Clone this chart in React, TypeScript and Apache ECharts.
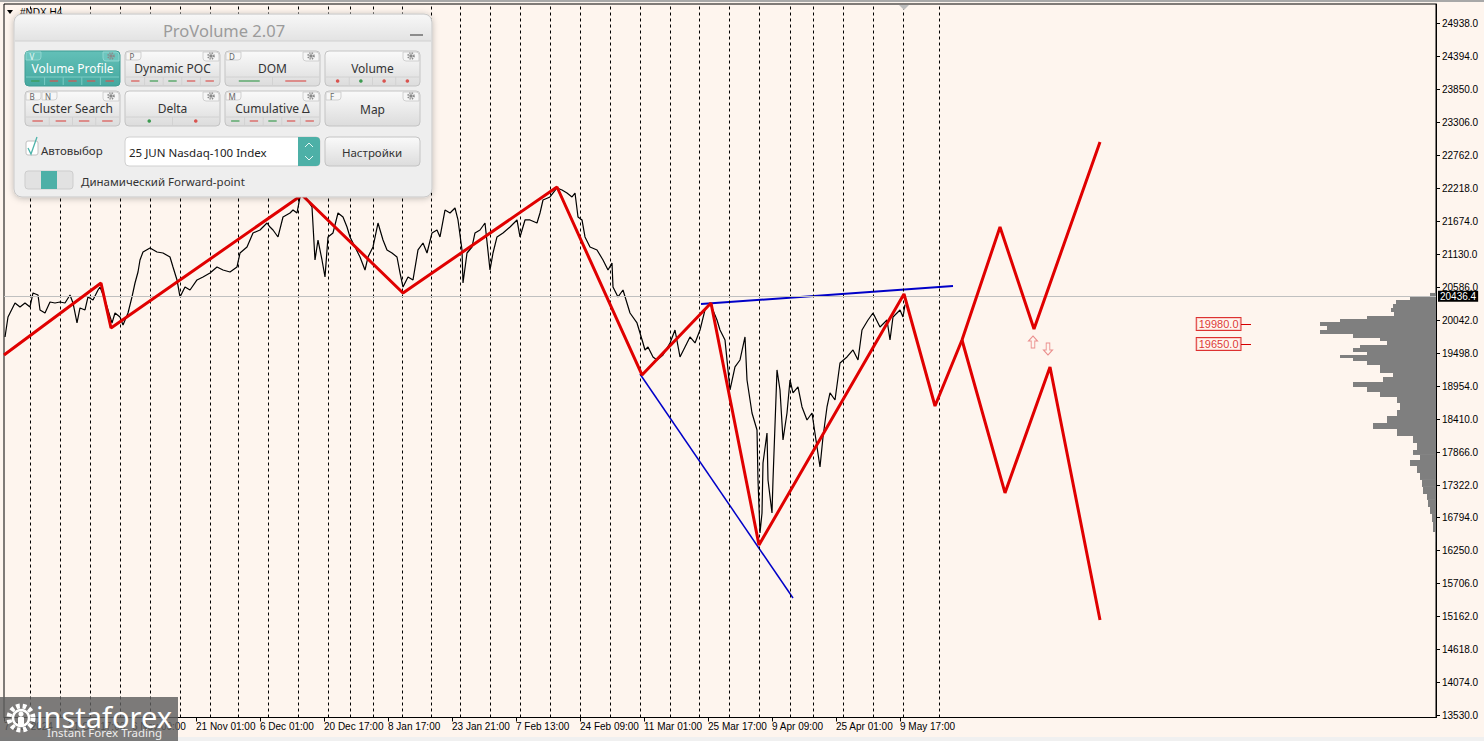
import React, { useEffect, useRef } from "react";
import * as echarts from "echarts";

// ---------- DATA ----------
const priceTicks = [13530, 14074, 14618, 15162, 15706, 16250, 16794, 17322, 17866, 18410, 18954, 19498, 20042, 20586, 21130, 21674, 22218, 22762, 23306, 23850, 24394, 24938];
const dateTickBars = [0, 64, 128, 192, 256, 320, 384, 448, 512, 576, 640, 704, 768, 832, 896];
const dateLabels = ["7 Oct 2024", "21 Oct 17:00", "6 Nov 09:00", "21 Nov 01:00", "6 Dec 01:00", "20 Dec 17:00", "8 Jan 17:00", "23 Jan 21:00", "7 Feb 13:00", "24 Feb 09:00", "11 Mar 01:00", "25 Mar 17:00", "9 Apr 09:00", "25 Apr 01:00", "9 May 17:00"];
const separatorBars = [26, 56, 86, 116, 146, 176, 206, 234, 264, 294, 324, 346, 369, 398, 427, 456, 486, 516, 546, 576, 606, 636, 666, 695, 725, 755, 786, 809, 839, 869, 899, 935];
const currentPrice = 20436.4;

// NDX H4 close path: [bar index, price]
const ndxPath = [
  [1, 19767], [4, 20096], [11, 20327], [16, 20261], [21, 20327], [26, 20261], [29, 20492], [34, 20459], [36, 20212], [41, 20162],
  [46, 20343], [51, 20327], [56, 20343], [61, 20327], [66, 20459], [69, 20327], [73, 19998], [76, 20245], [81, 20212], [84, 20426],
  [89, 20376], [94, 20541], [96, 20590], [100, 20426], [108, 19998], [111, 20162], [116, 20096], [119, 19965], [124, 20162], [128, 20426],
  [131, 20656], [134, 20837], [136, 21035], [139, 21167], [146, 21233], [153, 21167], [159, 21150], [166, 21084], [169, 20920], [173, 20706],
  [176, 20426], [181, 20590], [186, 20541], [193, 20706], [199, 20755], [206, 20821], [213, 20920], [219, 20870], [226, 20837], [233, 20920],
  [236, 21150], [243, 21249], [249, 21480], [256, 21529], [263, 21644], [266, 21578], [269, 21529], [274, 21414], [279, 21743], [286, 21809],
  [289, 21858], [293, 21809], [296, 22073], [299, 22188], [303, 22023], [308, 21908], [311, 21035], [314, 21364], [318, 21035], [321, 20755],
  [324, 21414], [329, 21480], [334, 21809], [339, 21743], [343, 21578], [346, 21414], [351, 21249], [356, 21084], [361, 20870], [364, 21084],
  [369, 21249], [374, 21644], [379, 21364], [383, 21200], [388, 21150], [393, 21084], [396, 20821], [399, 20590], [404, 20755], [409, 20706],
  [414, 21200], [419, 21315], [423, 21150], [428, 21480], [433, 21529], [436, 21414], [441, 21858], [446, 21809], [451, 21891], [454, 21694],
  [458, 21200], [459, 20656], [463, 21150], [468, 21249], [471, 21480], [476, 21529], [481, 21644], [486, 20870], [489, 21150], [493, 21414],
  [499, 21480], [506, 21578], [513, 21694], [516, 21414], [521, 21694], [526, 21694], [533, 21644], [536, 21809], [539, 22023], [546, 22073],
  [553, 22221], [558, 22188], [563, 22138], [568, 22073], [571, 22138], [574, 21743], [578, 21694], [581, 21414], [586, 21249], [593, 21200],
  [599, 21035], [604, 20870], [608, 20986], [609, 20590], [614, 20426], [619, 20541], [626, 20162], [633, 19998], [639, 19668], [641, 19553],
  [644, 19602], [649, 19438], [653, 19388], [659, 19470], [666, 19668], [671, 19882], [676, 19438], [681, 19602], [686, 19767], [691, 19668],
  [696, 19882], [701, 20212], [706, 20327], [713, 20047], [716, 19882], [721, 19718], [726, 18894], [731, 19273], [736, 19388], [741, 19767],
  [743, 19059], [748, 18515], [753, 18235], [754, 17412], [756, 16539], [758, 16868], [759, 17692], [763, 18186], [764, 17412], [768, 16868],
  [769, 17412], [773, 19224], [776, 18894], [779, 18071], [783, 18515], [786, 19059], [789, 18845], [794, 18944], [798, 18614], [803, 18400],
  [808, 18515], [813, 17955], [816, 17626], [819, 18120], [823, 18614], [826, 18845], [831, 18729], [836, 19339], [843, 19438], [849, 19553],
  [854, 19388], [858, 19882], [864, 20047], [869, 20162], [876, 19932], [883, 20047], [886, 19718], [889, 20096], [896, 20212], [899, 20096],
  [901, 20300]
];

// Red zigzag with its upper projection
const zigzagMain = [
  [0, 19470], [97, 20656], [107, 19915], [298, 22105], [399, 20491], [553, 22237], [638, 19141], [707, 20327], [755, 16341], [900, 20475],
  [931, 18630], [958, 19717], [996, 21578], [1030, 19899], [1096, 22978]
];
// Lower projection branch
const zigzagAlt = [[958, 19717], [1001, 17198], [1046, 19273], [1096, 15106]];

const blueUpper = [[697, 20310], [949, 20607]];
const blueLower = [[636, 19157], [789, 15468]];

const arrowUp = [[1029, 19684]];
const arrowDown = [[1044, 19569]];
const levelPrices = [19980, 19650];

// Volume profile: price bin boundaries (high -> low) and volumes per bin
const profileBounds = [20492, 20442, 20376, 20311, 20245, 20179, 20113, 20063, 20014, 19948, 19882, 19816, 19751, 19701, 19635, 19586, 19520, 19470, 19421, 19372, 19306, 19240, 19174, 19108, 19026, 18944, 18861, 18779, 18680, 18565, 18466, 18351, 18252, 18137, 18021, 17906, 17824, 17741, 17642, 17527, 17412, 17297, 17181, 17083, 16967, 16852, 16720, 16555, 16391];
const profileVolumes = [6, 26, 40, 43, 45, 42, 69, 96, 116, 109, 116, 83, 56, 49, 76, 83, 69, 96, 83, 69, 56, 56, 43, 53, 83, 69, 56, 39, 36, 39, 49, 63, 39, 23, 19, 23, 16, 26, 19, 16, 14, 13, 9, 8, 6, 4, 3, 1];

// Panel buttons
const panelButtons = [
  { label: "Volume Profile", tabs: ["V"], marks: ["g", "r", "r", "r", "r"], kind: "dash", active: true },
  { label: "Dynamic POC", tabs: ["P"], marks: ["r", "g", "g", "r", "r"], kind: "dash" },
  { label: "DOM", tabs: ["D"], marks: ["g", "r"], kind: "dash" },
  { label: "Volume", tabs: [], marks: ["r", "g", "r", "r"], kind: "dot" },
  { label: "Cluster Search", tabs: ["B", "N"], marks: ["r", "r", "r", "r"], kind: "dash" },
  { label: "Delta", tabs: [], marks: ["g", "r"], kind: "dot" },
  { label: "Cumulative Δ", tabs: ["M"], marks: ["g", "r", "g", "r", "r"], kind: "dash" },
  { label: "Map", tabs: ["F"], marks: [], kind: "dash" },
];

// ---------- HELPERS ----------
const BG = "#FEF5EE";
const UI_FONT = '"Noto Sans", "Open Sans", sans-serif';
const UI_SIZE = 11.5;
const RED = "#E00000";

function grayGrad() {
  return new echarts.graphic.LinearGradient(0, 0, 0, 1, [
    { offset: 0, color: "#FAFAFA" },
    { offset: 1, color: "#DCDCDC" },
  ]);
}
function tealGrad() {
  return new echarts.graphic.LinearGradient(0, 0, 0, 1, [
    { offset: 0, color: "#63C0B8" },
    { offset: 1, color: "#45A89F" },
  ]);
}

function gear(cx: number, cy: number, z: number) {
  return [
    { type: "circle", shape: { cx, cy, r: 2.8 }, style: { fill: "none", stroke: "#8A8A8A", lineWidth: 2, lineDash: [1.2, 1] }, z },
    { type: "circle", shape: { cx, cy, r: 1.6 }, style: { fill: "#8A8A8A" }, z },
  ];
}

function buildButton(b: any, x: number, y: number, w: number, h: number) {
  const z = 102;
  const els: any[] = [];
  els.push({ type: "rect", shape: { x, y, width: w, height: h, r: 4 }, style: { fill: b.active ? tealGrad() : grayGrad(), stroke: b.active ? "#3E9C93" : "#C4C4C4", lineWidth: 1 }, z });
  b.tabs.forEach((t: string, i: number) => {
    const tx = x + 1 + i * 16;
    els.push({ type: "rect", shape: { x: tx, y: y + 1, width: 15, height: 8, r: [0, 0, 3, 0] }, style: { fill: b.active ? "#6CC6BE" : "#F6F6F6", stroke: b.active ? "#9ADAD4" : "#C8C8C8", lineWidth: 0.8 }, z: z + 1 });
    els.push({ type: "text", x: tx + 6, y: y + 5, style: { text: t, fill: b.active ? "#E8F8F6" : "#666", fontSize: 8, fontFamily: UI_FONT, align: "center", verticalAlign: "middle" }, z: z + 2 });
  });
  els.push({ type: "rect", shape: { x: x + w - 17, y: y + 1, width: 16, height: 9, r: [0, 3, 0, 3] }, style: { fill: b.active ? "#6CC6BE" : "#F6F6F6", stroke: b.active ? "#9ADAD4" : "#C8C8C8", lineWidth: 0.8 }, z: z + 1 });
  els.push(...gear(x + w - 9, y + 5, z + 2));
  els.push({ type: "text", x: x + w / 2, y: y + (b.marks.length ? 17 : 18), style: { text: b.label, fill: b.active ? "#FFFFFF" : "#333", fontSize: UI_SIZE + 0.5, fontFamily: UI_FONT, align: "center", verticalAlign: "middle" }, z: z + 2 });
  const n = b.marks.length;
  if (n) {
    const sy = y + h - 9;
    els.push({ type: "line", shape: { x1: x + 1, y1: sy, x2: x + w - 1, y2: sy }, style: { stroke: b.active ? "#7ACBC4" : "#D2D2D2", lineWidth: 1 }, z: z + 1 });
    const cw = (w - 2) / n;
    for (let k = 0; k < n; k++) {
      const cx = x + 1 + cw * (k + 0.5);
      if (k > 0) {
        els.push({ type: "line", shape: { x1: x + 1 + cw * k, y1: sy, x2: x + 1 + cw * k, y2: y + h - 1 }, style: { stroke: b.active ? "#7ACBC4" : "#D2D2D2", lineWidth: 1 }, z: z + 1 });
      }
      const col = b.marks[k] === "g" ? "#3C9A50" : "#D9534F";
      if (b.kind === "dot") {
        els.push({ type: "circle", shape: { cx, cy: y + h - 5, r: 1.8 }, style: { fill: col }, z: z + 2 });
      } else {
        const dl = Math.min(cw * 0.45, 24) / 2;
        els.push({ type: "line", shape: { x1: cx - dl, y1: y + h - 5, x2: cx + dl, y2: y + h - 5 }, style: { stroke: col, lineWidth: 1.2 }, z: z + 2 });
      }
    }
  }
  return els;
}

function buildPanel() {
  const z = 100;
  const els: any[] = [];
  els.push({ type: "rect", shape: { x: 14, y: 14, width: 418, height: 183, r: 8 }, style: { fill: "#EEEEEE", stroke: "#C9C9C9", lineWidth: 1, shadowBlur: 6, shadowColor: "rgba(0,0,0,0.25)", shadowOffsetY: 1 }, z });
  els.push({ type: "rect", shape: { x: 15, y: 15, width: 416, height: 26, r: [7, 7, 0, 0] }, style: { fill: new echarts.graphic.LinearGradient(0, 0, 0, 1, [{ offset: 0, color: "#F7F7F7" }, { offset: 1, color: "#E3E3E3" }]) }, z: z + 1 });
  els.push({ type: "line", shape: { x1: 15, y1: 41, x2: 431, y2: 41 }, style: { stroke: "#D0D0D0", lineWidth: 1 }, z: z + 1 });
  els.push({ type: "text", x: 224, y: 30, style: { text: "ProVolume 2.07", fill: "#9B9B9B", fontSize: 16.5, fontFamily: UI_FONT, align: "center", verticalAlign: "middle" }, z: z + 2 });
  els.push({ type: "line", shape: { x1: 410, y1: 35, x2: 423, y2: 35 }, style: { stroke: "#8C8C8C", lineWidth: 2 }, z: z + 2 });
  panelButtons.forEach((b, i) => {
    const col = i % 4;
    const row = Math.floor(i / 4);
    els.push(...buildButton(b, 25 + col * 100, 51 + row * 40, 95, 35));
  });
  els.push({ type: "rect", shape: { x: 26, y: 141, width: 12, height: 14, r: 2 }, style: { fill: "#FFFFFF", stroke: "#C0C0C0", lineWidth: 1 }, z: z + 2 });
  els.push({ type: "polyline", shape: { points: [[28, 148], [31, 154], [37, 137]] }, style: { stroke: "#4DB3AA", lineWidth: 1.3, fill: "none" }, z: z + 3 });
  els.push({ type: "text", x: 41, y: 150, style: { text: "Автовыбор", fill: "#333", fontSize: UI_SIZE, fontFamily: UI_FONT, verticalAlign: "middle" }, z: z + 2 });
  els.push({ type: "rect", shape: { x: 125, y: 137, width: 195, height: 29, r: 4 }, style: { fill: "#FFFFFF", stroke: "#D0D0D0", lineWidth: 1 }, z: z + 2 });
  els.push({ type: "rect", shape: { x: 298, y: 137, width: 22, height: 29, r: [0, 4, 4, 0] }, style: { fill: "#4DB0A7" }, z: z + 3 });
  els.push({ type: "polyline", shape: { points: [[305, 147], [309, 143], [313, 147]] }, style: { stroke: "#E6F6F4", lineWidth: 1, fill: "none" }, z: z + 4 });
  els.push({ type: "polyline", shape: { points: [[305, 156], [309, 160], [313, 156]] }, style: { stroke: "#E6F6F4", lineWidth: 1, fill: "none" }, z: z + 4 });
  els.push({ type: "text", x: 129, y: 152, style: { text: "25 JUN Nasdaq-100 Index", fill: "#222", fontSize: UI_SIZE, fontFamily: UI_FONT, verticalAlign: "middle" }, z: z + 3 });
  els.push({ type: "rect", shape: { x: 325, y: 137, width: 95, height: 29, r: 4 }, style: { fill: grayGrad(), stroke: "#C4C4C4", lineWidth: 1 }, z: z + 2 });
  els.push({ type: "text", x: 372, y: 152, style: { text: "Настройки", fill: "#333", fontSize: UI_SIZE, fontFamily: UI_FONT, align: "center", verticalAlign: "middle" }, z: z + 3 });
  els.push({ type: "rect", shape: { x: 25, y: 171, width: 48, height: 18, r: 3 }, style: { fill: "#E2E2E2", stroke: "#CDCDCD", lineWidth: 1 }, z: z + 2 });
  els.push({ type: "rect", shape: { x: 41, y: 171, width: 16, height: 18 }, style: { fill: "#4DB0A7" }, z: z + 3 });
  els.push({ type: "text", x: 81, y: 181, style: { text: "Динамический Forward-point", fill: "#333", fontSize: UI_SIZE, fontFamily: UI_FONT, verticalAlign: "middle" }, z: z + 2 });
  return els;
}

function buildLogo() {
  const z = 120;
  const els: any[] = [];
  els.push({ type: "rect", shape: { x: 0, y: 697, width: 178, height: 44 }, style: { fill: "rgba(95,95,95,0.82)" }, z });
  els.push({ type: "circle", shape: { cx: 21, cy: 718, r: 12 }, style: { fill: "none", stroke: "#FFFFFF", lineWidth: 5, lineDash: [3.6, 2.8] }, z: z + 1 });
  els.push({ type: "circle", shape: { cx: 21, cy: 718, r: 8 }, style: { fill: "none", stroke: "#FFFFFF", lineWidth: 2.5 }, z: z + 1 });
  els.push({ type: "circle", shape: { cx: 21, cy: 714, r: 2.6 }, style: { fill: "#FFFFFF" }, z: z + 1 });
  els.push({ type: "rect", shape: { x: 18, y: 717, width: 6, height: 8, r: 1 }, style: { fill: "#FFFFFF" }, z: z + 1 });
  els.push({ type: "text", x: 36, y: 716, style: { text: "instaforex", fill: "#FFFFFF", fontSize: 29, fontFamily: UI_FONT, verticalAlign: "middle" }, z: z + 1 });
  els.push({ type: "text", x: 47, y: 732, style: { text: "Instant Forex Trading", fill: "#EDEDED", fontSize: 11.5, fontFamily: UI_FONT, verticalAlign: "middle" }, z: z + 1 });
  return els;
}

function buildFrameDecor() {
  return [
    { type: "rect", shape: { x: 0, y: 0, width: 1484, height: 2 }, style: { fill: "#A8A8A8" }, z: 50 },
    { type: "rect", shape: { x: 0, y: 737, width: 1484, height: 4 }, style: { fill: "#F0F0F0" }, z: 50 },
    { type: "polygon", shape: { points: [[7, 10], [13, 10], [10, 14]] }, style: { fill: "#000" }, z: 50 },
    { type: "text", x: 20, y: 12, style: { text: "#NDX,H4", fill: "#000", fontSize: 10, fontFamily: "Liberation Sans", verticalAlign: "middle" }, z: 50 },
    { type: "polygon", shape: { points: [[899, 5], [909, 5], [904, 10]] }, style: { fill: "#BDBDBD" }, z: 50 },
  ];
}

export default function App() {
  const ref = useRef<HTMLDivElement>(null);
  useEffect(() => {
    if (!ref.current) return;
    const chart = echarts.init(ref.current, null, { renderer: "svg" });
    const profileData = profileVolumes.map((v, i) => [profileBounds[i + 1], profileBounds[i], v]);
    const option: any = {
      animation: false,
      backgroundColor: BG,
      textStyle: { fontFamily: "Liberation Sans" },
      grid: { left: 4, top: 4, width: 1432, height: 713.5, show: true, borderColor: "#000", borderWidth: 1, backgroundColor: BG, containLabel: false },
      xAxis: [
        {
          type: "value", min: 0, max: 1432, position: "bottom",
          axisLine: { show: true, onZero: false, lineStyle: { color: "#000", width: 1 } },
          axisTick: { show: true, customValues: dateTickBars, length: 4, lineStyle: { color: "#000" } },
          axisLabel: { customValues: dateTickBars, formatter: (v: number) => dateLabels[dateTickBars.indexOf(v)] ?? "", align: "left", margin: 4, fontSize: 10, color: "#000", fontFamily: "Liberation Sans" },
          splitLine: { show: false },
        },
        { type: "value", min: 0, max: 1432, inverse: true, show: false },
      ],
      yAxis: [
        {
          type: "value", position: "right", min: 13500, max: 25251,
          axisLine: { show: true, onZero: false, lineStyle: { color: "#000", width: 1 } },
          axisTick: { show: true, customValues: priceTicks, length: 4, lineStyle: { color: "#000" } },
          axisLabel: { customValues: priceTicks, formatter: (v: number) => v.toFixed(1), margin: 6, fontSize: 10, color: "#000", fontFamily: "Liberation Sans" },
          splitLine: { show: false },
        },
      ],
      series: [
        {
          type: "custom", name: "profile", xAxisIndex: 1, yAxisIndex: 0, data: profileData, encode: { x: 2, y: [0, 1] }, silent: true, z: 1, clip: false,
          renderItem: (params: any, api: any) => {
            const a = api.coord([api.value(2), api.value(1)]);
            const b = api.coord([0, api.value(0)]);
            return { type: "rect", shape: { x: Math.min(a[0], b[0]), y: Math.min(a[1], b[1]), width: Math.abs(b[0] - a[0]), height: Math.abs(b[1] - a[1]) }, style: { fill: "#7F7F7F" } };
          },
        },
        {
          type: "line", name: "NDX", data: ndxPath, symbol: "none", lineStyle: { color: "#000", width: 1.2 }, z: 3, silent: true,
          markLine: {
            symbol: ["none", "none"], silent: true, animation: false,
            data: [
              ...separatorBars.map((b) => ({ xAxis: b, lineStyle: { color: "#000", type: [3, 3], width: 1 }, label: { show: false } })),
              { yAxis: currentPrice, lineStyle: { color: "#C0C0C0", type: "solid", width: 1 }, label: { show: true, position: "end", distance: 2, formatter: currentPrice.toFixed(1), backgroundColor: "#000", color: "#FFF", padding: [1, 2, 0, 2], fontSize: 10, fontFamily: "Liberation Sans" } },
            ],
          },
        },
        { type: "line", name: "zigzag", data: zigzagMain, symbol: "none", lineStyle: { color: RED, width: 3 }, z: 5, silent: true },
        { type: "line", name: "zigzag2", data: zigzagAlt, symbol: "none", lineStyle: { color: RED, width: 3 }, z: 5, silent: true },
        { type: "line", name: "blueUpper", data: blueUpper, symbol: "none", lineStyle: { color: "#0000C8", width: 2 }, z: 4, silent: true },
        { type: "line", name: "blueLower", data: blueLower, symbol: "none", lineStyle: { color: "#0000C8", width: 1.5 }, z: 4, silent: true },
        {
          type: "scatter", name: "arrowUp", data: arrowUp, symbol: "path://M5,0 L10,5 L7,5 L7,12 L3,12 L3,5 L0,5 Z", symbolSize: [9, 12],
          itemStyle: { color: BG, borderColor: "#E57373", borderWidth: 1 }, z: 6, silent: true,
        },
        {
          type: "scatter", name: "arrowDown", data: arrowDown, symbol: "path://M5,0 L10,5 L7,5 L7,12 L3,12 L3,5 L0,5 Z", symbolSize: [9, 12], symbolRotate: 180,
          itemStyle: { color: BG, borderColor: "#E57373", borderWidth: 1 }, z: 6, silent: true,
        },
        {
          type: "scatter", name: "levels", data: levelPrices.map((p) => [1237, p]), symbolSize: 1, itemStyle: { color: "rgba(0,0,0,0)" }, z: 6, silent: true,
          label: { show: true, position: "left", distance: 0, formatter: (p: any) => p.value[1].toFixed(1), color: "#D40000", borderColor: "#D40000", borderWidth: 1, padding: [1, 2, 0, 2], fontSize: 11, fontFamily: "Liberation Sans", backgroundColor: BG },
          markLine: {
            symbol: ["none", "none"], silent: true, label: { show: false }, lineStyle: { color: "#D40000", width: 1, type: "solid" },
            data: levelPrices.map((p) => [{ coord: [1237, p] }, { coord: [1247, p] }]),
          },
        },
      ],
      graphic: { elements: [...buildFrameDecor(), ...buildPanel(), ...buildLogo()] },
    };
    chart.setOption(option);
    return () => chart.dispose();
  }, []);
  return <div ref={ref} style={{ position: "fixed", left: 0, top: 0, width: 1484, height: 741, background: BG }} />;
}
